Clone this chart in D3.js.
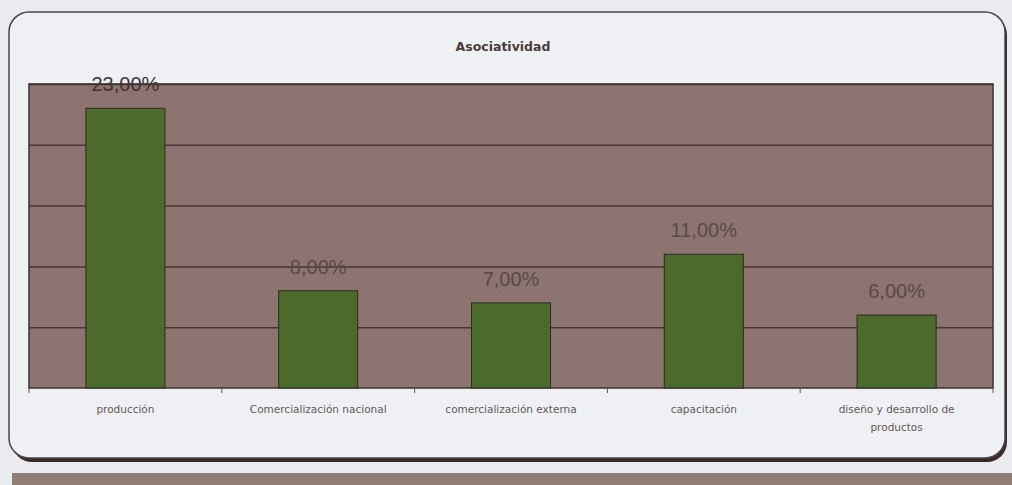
<!DOCTYPE html>
<html>
<head>
<meta charset="utf-8">
<script src="https://cdn.jsdelivr.net/npm/d3@7"></script>
<style>
  body { margin: 0; background: #e9ebee; }
  svg { display: block; font-family: 'Liberation Sans', Arial, sans-serif; }
</style>
</head>
<body>
<div id="chart-area"></div>
<script>
'use strict';

let categories = [
    'producción',
    'Comercialización nacional',
    'comercialización externa',
    'capacitación',
    'diseño y desarrollo de|productos',
];
let values = [23, 8, 7, 11, 6];
let gridTicks = [5, 10, 15, 20, 25];
let title = 'Asociatividad';

let W = 1012;
let H = 485;
let margin = {
    left: 29,
    right: 19,
    top: 84,
    bottom: 97,
};

let svg = d3.select('#chart-area').append('svg')
    .attr('width', W)
    .attr('height', H);

// bottom strip of the scanned page
svg.append('rect')
    .attr('x', 12)
    .attr('y', 473)
    .attr('width', W - 12)
    .attr('height', 12)
    .attr('fill', '#8f7d76');

// card shadow + card
svg.append('rect')
    .attr('x', 12)
    .attr('y', 15)
    .attr('width', 995)
    .attr('height', 447)
    .attr('rx', 20)
    .attr('fill', '#3a2a2a');
svg.append('rect')
    .attr('x', 9)
    .attr('y', 12)
    .attr('width', 996)
    .attr('height', 446)
    .attr('rx', 20)
    .attr('fill', '#eef0f3')
    .attr('stroke', '#4a4446')
    .attr('stroke-width', 1.5);

svg.append('text')
    .attr('x', 503)
    .attr('y', 51)
    .attr('text-anchor', 'middle')
    .attr('font-family', "'DejaVu Sans', Verdana, sans-serif")
    .attr('font-size', '12.5px')
    .attr('font-weight', 'bold')
    .attr('fill', '#4a3c3c')
    .text(title);

let w = W - margin.left - margin.right;
let h = 388 - margin.top;

let g = svg.append('g')
    .attr('transform', 'translate(' + margin.left + ',' + margin.top + ')');

let x = d3.scaleBand()
    .domain(categories)
    .range([0, w])
    .paddingInner(0.59)
    .paddingOuter(0.295);

let y = d3.scaleLinear()
    .domain([0, 25])
    .range([h, 0]);

g.append('rect')
    .attr('width', w)
    .attr('height', h)
    .attr('fill', '#8e7470');

let grid = d3.axisLeft(y)
    .tickValues(gridTicks)
    .tickSize(-w)
    .tickFormat('');
g.append('g')
    .attr('class', 'grid')
    .call(grid)
    .call(s => s.select('.domain').remove())
    .selectAll('line')
    .attr('stroke', '#4a3333')
    .attr('stroke-width', 1.5);

g.append('rect')
    .attr('width', w)
    .attr('height', h)
    .attr('fill', 'none')
    .attr('stroke', '#3d3030')
    .attr('stroke-width', 1.5);

g.selectAll('rect.bar')
    .data(values)
    .enter()
    .append('rect')
        .attr('class', 'bar')
        .attr('x', (d, i) => x(categories[i]))
        .attr('y', d => y(d))
        .attr('width', x.bandwidth())
        .attr('height', d => h - y(d))
        .attr('fill', '#4b6a2b')
        .attr('stroke', '#2e2a22')
        .attr('stroke-width', 1);

g.selectAll('text.val')
    .data(values)
    .enter()
    .append('text')
        .attr('class', 'val')
        .attr('x', (d, i) => x(categories[i]) + x.bandwidth() / 2)
        .attr('y', d => y(d) - 17)
        .attr('text-anchor', 'middle')
        .attr('font-size', '20px')
        .attr('fill', (d, i) => i === 0 ? '#3e3434' : '#574a4a')
        .text(d => d.toFixed(2).replace('.', ',') + '%');

// category boundary ticks
let step = x.step();
g.selectAll('line.tick-b')
    .data(d3.range(categories.length + 1))
    .enter()
    .append('line')
        .attr('x1', i => i * step)
        .attr('x2', i => i * step)
        .attr('y1', h)
        .attr('y2', h + 5)
        .attr('stroke', '#5a5050');

let x_axis = d3.axisBottom(x).tickSize(0).tickPadding(0);
let xg = g.append('g')
    .attr('class', 'x_axis')
    .attr('transform', 'translate(0,' + h + ')')
    .call(x_axis);
xg.select('.domain').remove();
xg.selectAll('text').remove();
xg.selectAll('.tick').each(function(d) {
    let lines = d.split('|');
    let t = d3.select(this).append('text')
        .attr('text-anchor', 'middle')
        .attr('font-family', "'DejaVu Sans', Verdana, sans-serif")
        .attr('font-size', '10.5px')
        .attr('fill', '#665858');
    lines.forEach((l, i) => {
        t.append('tspan')
            .attr('x', 0)
            .attr('y', 25 + i * 18)
            .text(l);
    });
});
</script>
</body>
</html>
